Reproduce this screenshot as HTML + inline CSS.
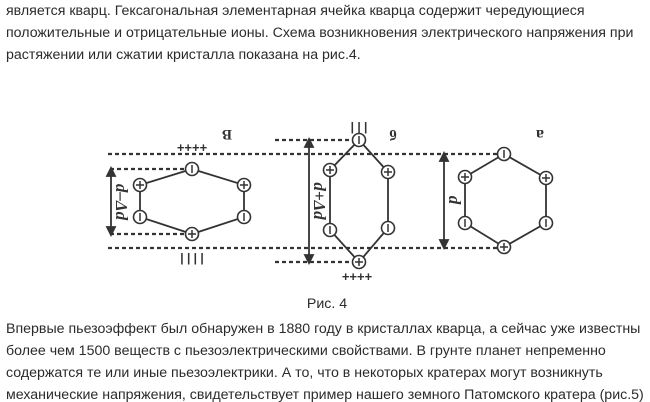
<!DOCTYPE html>
<html><head><meta charset="utf-8"><style>
html,body{margin:0;padding:0;background:#fff;}
svg{display:block}
.t{font-family:"Liberation Sans",sans-serif;font-size:14.2px;fill:#2b2b2b}
.s{font-family:"Liberation Sans",sans-serif;font-size:11px;fill:#333;font-weight:bold}
.d{stroke:#333;stroke-width:2.2;stroke-dasharray:4,3;fill:none}
.h{stroke:#333;stroke-width:1.8;fill:none}
.c{fill:#fff;stroke:#333;stroke-width:1.6}
</style></head><body>
<svg width="650" height="402" viewBox="0 0 650 402">
<text class="t" x="6" y="15">является кварц. Гексагональная элементарная ячейка кварца содержит чередующиеся</text>
<text class="t" x="6" y="37">положительные и отрицательные ионы. Схема возникновения электрического напряжения при</text>
<text class="t" x="6" y="59">растяжении или сжатии кристалла показана на рис.4.</text>

<line class="d" x1="108" y1="154" x2="500" y2="154"/>
<line class="d" x1="108" y1="248" x2="500" y2="248"/>
<line class="d" x1="110" y1="169" x2="187" y2="169"/>
<line class="d" x1="110" y1="234" x2="187" y2="234"/>
<line class="d" x1="275" y1="140" x2="354" y2="140"/>
<line class="d" x1="275" y1="262" x2="354" y2="262"/>

<g stroke="#333" stroke-width="1.8" fill="#333">
<line x1="111" y1="172" x2="111" y2="231"/><path d="M107,176 L111,168 L115,176Z M107,227 L111,235 L115,227Z"/>
<line x1="309" y1="143" x2="309" y2="259"/><path d="M305,147 L309,139 L313,147Z M305,255 L309,263 L313,255Z"/>
<line x1="444" y1="157" x2="444" y2="244"/><path d="M440,161 L444,153 L448,161Z M440,240 L444,248 L448,240Z"/>
</g>

<polygon class="h" points="192,169 244,185 244,217 192,234 140,217 140,185"/>
<polygon class="h" points="359,140 388,172 388,228 359,262 330,230 330,170"/>
<polygon class="h" points="504,154 546,178 546,223 504,247 465,223 465,177"/>

<g>
<circle class="c" cx="192" cy="169" r="6.5"/><circle class="c" cx="244" cy="185" r="6.5"/><circle class="c" cx="244" cy="217" r="6.5"/>
<circle class="c" cx="192" cy="234" r="6.5"/><circle class="c" cx="140" cy="217" r="6.5"/><circle class="c" cx="140" cy="185" r="6.5"/>
<circle class="c" cx="359" cy="140" r="6.5"/><circle class="c" cx="388" cy="172" r="6.5"/><circle class="c" cx="388" cy="228" r="6.5"/>
<circle class="c" cx="359" cy="262" r="6.5"/><circle class="c" cx="330" cy="230" r="6.5"/><circle class="c" cx="330" cy="170" r="6.5"/>
<circle class="c" cx="504" cy="154" r="6.5"/><circle class="c" cx="546" cy="178" r="6.5"/><circle class="c" cx="546" cy="223" r="6.5"/>
<circle class="c" cx="504" cy="247" r="6.5"/><circle class="c" cx="465" cy="223" r="6.5"/><circle class="c" cx="465" cy="177" r="6.5"/>
</g>
<g stroke="#333" stroke-width="1.5">
<path d="M192,165v8 M244,213v8 M359,136v8 M388,224v8 M504,150v8 M546,219v8 M140,213v8 M330,226v8 M465,219v8"/>
<path d="M240,185h8M244,181v8 M188,234h8M192,230v8 M136,185h8M140,181v8
M384,172h8M388,168v8 M355,262h8M359,258v8 M326,170h8M330,166v8
M542,178h8M546,174v8 M500,247h8M504,243v8 M461,177h8M465,173v8"/>
</g>

<text class="s" x="192" y="152" text-anchor="middle" style="font-size:13px">++++</text>
<text class="s" x="192" y="262" text-anchor="middle" style="font-size:12px">| | | |</text>
<text class="s" x="359" y="131" text-anchor="middle" style="font-size:12px">| | |</text>
<text class="s" x="357" y="281" text-anchor="middle" style="font-size:13px">++++</text>

<g font-family="Liberation Serif,serif" font-style="italic" fill="#333" font-size="17" font-weight="bold">
<text transform="translate(227,130) rotate(180)" text-anchor="middle" font-style="normal" font-size="15">В</text>
<text transform="translate(393,130) rotate(180)" text-anchor="middle" font-style="normal" font-size="15">б</text>
<text transform="translate(540,130) rotate(180)" text-anchor="middle" font-style="normal" font-size="16">а</text>
<text transform="translate(116,202) rotate(90)" text-anchor="middle">d–Δd</text>
<text transform="translate(314,201) rotate(90)" text-anchor="middle">d+Δd</text>
<text transform="translate(449,200) rotate(90)" text-anchor="middle">d</text>
</g>

<text class="t" x="327" y="308" text-anchor="middle">Рис. 4</text>
<text class="t" x="6" y="333">Впервые пьезоэффект был обнаружен в 1880 году в кристаллах кварца, а сейчас уже  известны</text>
<text class="t" x="6" y="355">более чем 1500 веществ с пьезоэлектрическими свойствами. В грунте планет непременно</text>
<text class="t" x="6" y="377">содержатся те или иные пьезоэлектрики. А то, что в некоторых кратерах могут возникнуть</text>
<text class="t" x="6" y="399">механические напряжения, свидетельствует пример нашего земного Патомского кратера (рис.5)</text>
</svg>
</body></html>
